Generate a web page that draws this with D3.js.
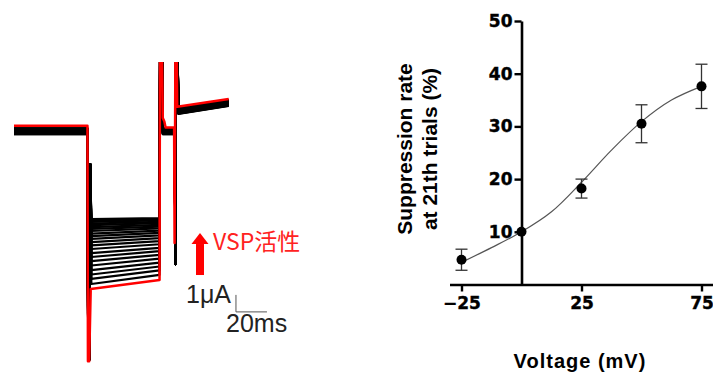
<!DOCTYPE html>
<html>
<head>
<meta charset="utf-8">
<script src="https://cdn.jsdelivr.net/npm/d3@7"></script>
<style>
  html, body { margin: 0; padding: 0; background: #fff; }
  svg { display: block; }
</style>
</head>
<body>
<svg id="chart" width="713" height="374"></svg>
<script>
// ---- left panel: current traces (time in ms, current in uA) ----
const familyStart = [-5.24, -5.32, -5.41, -5.5, -5.59, -5.71, -5.82, -5.94, -6.09, -6.24, -6.41,
  -6.59, -6.79, -7.0, -7.24, -7.47, -7.71, -7.97, -8.24, -8.5, -8.76, -9.06];
const familyEnd = [-5.18, -5.24, -5.32, -5.4, -5.48, -5.58, -5.68, -5.79, -5.92, -6.05, -6.2,
  -6.36, -6.54, -6.72, -6.93, -7.13, -7.34, -7.57, -7.8, -8.03, -8.26, -8.52];
const holdLevels = [0.1, -0.1, 0.05, -0.2, 0.0, -0.15, 0.08, -0.25, -0.05, 0.1, -0.2,
  0.02, -0.12, -0.22, 0.06, -0.08, -0.18, 0.0, -0.1, 0.04, -0.24, -0.14];

const blackTimes = [0, 47.4, 47.9, 48.6, 49.1, 49.9, 93.9, 94.3, 95.4, 96.0, 103.6, 104.2, 104.6, 105.4, 106.0, 138.5];
// protocol levels shared by black traces ("h", "s", "e", "t0", "t1" = per-trace value)
const blackShape = ["h", "h", -13.5, -13.5, -2.0, "s", "e", 6, 6, "h", "h", -7.9, 6, 6, "t0", "t1"];
const tailStart = 1.2, tailEnd = 1.67;

const redTimes = [0, 47.4, 47.7, 48.5, 49.5, 93.9, 94.2, 95.3, 96.0, 97.0, 97.8, 103.3, 103.6, 104.2, 104.8, 105.3, 138.5];
const redLevels = [0.25, 0.25, -13.6, -13.6, -9.35, -8.82, 6, 6, 0.7, 0.5, 0.15, 0.15, -6.65, 6, 6, 1.37, 1.82];

// ---- right panel: suppression rate vs voltage ----
const voltages = [-25, 0, 25, 50, 75];
const suppression = [4.7, 10.0, 18.2, 30.5, 37.6];
const suppressionErr = [2.0, 0, 1.8, 3.6, 4.2];
const fitVoltages = [-25, -12.5, 0, 12.5, 25, 37.5, 50, 62.5, 75];
const fitValues = [4.2, 7.0, 10.0, 13.8, 19.4, 25.5, 30.9, 35.0, 37.6];
const xTicks = [-25, 25, 75];
const yTicks = [10, 20, 30, 40, 50];

const svg = d3.select("#chart");

// ================= left panel =================
const tx = d3.scaleLinear().domain([0, 140]).range([14, 14 + 140 * 1.55]);
const iy = d3.scaleLinear().domain([-14, 4]).range([368, 62]);

svg.append("clipPath").attr("id", "traceClip")
  .append("rect").attr("x", 0).attr("y", iy(4)).attr("width", 260).attr("height", 374);

const traceLine = d3.line().x(d => tx(d[0])).y(d => iy(d[1]));
const traces = svg.append("g").attr("clip-path", "url(#traceClip)");

familyStart.forEach((s, i) => {
  const h = holdLevels[i];
  const vals = blackShape.map(v => {
    if (v === "h") return h;
    if (v === "s") return s;
    if (v === "e") return familyEnd[i];
    if (v === "t0") return tailStart + h;
    if (v === "t1") return tailEnd + h;
    return v;
  });
  traces.append("path")
    .datum(blackTimes.map((t, k) => [t, vals[k]]))
    .attr("d", traceLine)
    .attr("fill", "none")
    .attr("stroke", "#000")
    .attr("stroke-width", 2.2)
    .attr("stroke-linejoin", "round");
});

traces.append("path")
  .datum(redTimes.map((t, k) => [t, redLevels[k]]))
  .attr("d", traceLine)
  .attr("fill", "none")
  .attr("stroke", "#f00")
  .attr("stroke-width", 2.5)
  .attr("stroke-linejoin", "round");

// VSP activity arrow + label
const arrowT = 120, arrowTop = -6.06, arrowBase = -8.53;
const ax = tx(arrowT);
svg.append("rect")
  .attr("x", ax - 4).attr("y", iy(arrowTop) + 11)
  .attr("width", 8).attr("height", iy(arrowBase) - iy(arrowTop) - 11)
  .attr("fill", "#f00");
svg.append("path")
  .attr("d", `M${ax - 8.5},${iy(arrowTop) + 11}L${ax},${iy(arrowTop)}L${ax + 8.5},${iy(arrowTop) + 11}Z`)
  .attr("fill", "#f00");
svg.append("text")
  .attr("x", ax + 13).attr("y", iy(arrowTop) + 17)
  .attr("fill", "#f22")
  .attr("font-family", "'Noto Sans CJK JP', 'Noto Sans', sans-serif")
  .attr("font-size", 23)
  .text("VSP活性");

// scale bar: 1 uA, 20 ms
const sbT = 143.2, sbI = -10.7;
svg.append("path")
  .attr("d", `M${tx(sbT)},${iy(sbI + 1)}V${iy(sbI)}H${tx(sbT + 20)}`)
  .attr("fill", "none")
  .attr("stroke", "#555")
  .attr("stroke-width", 1);
svg.append("text")
  .attr("x", 186).attr("y", iy(sbI) - 9)
  .attr("fill", "#222")
  .attr("font-family", "'Liberation Sans', Arial, sans-serif")
  .attr("font-size", 25)
  .text("1μA");
svg.append("text")
  .attr("x", 226).attr("y", iy(sbI) + 20)
  .attr("fill", "#222")
  .attr("font-family", "'Liberation Sans', Arial, sans-serif")
  .attr("font-size", 25)
  .text("20ms");

// ================= right panel =================
const x = d3.scaleLinear().domain([-30, 80]).range([449.5, 713.5]);
const y = d3.scaleLinear().domain([0, 50]).range([284.5, 21]);

const axisFont = "'DejaVu Sans', sans-serif";

const gx = svg.append("g")
  .attr("transform", `translate(0,${y(0)})`)
  .call(d3.axisBottom(x).tickValues(xTicks).tickSize(7).tickSizeOuter(0).tickPadding(5));
const gy = svg.append("g")
  .attr("transform", `translate(${x(0)},0)`)
  .call(d3.axisLeft(y).tickValues(yTicks).tickSize(7).tickSizeOuter(0).tickPadding(2));

[gx, gy].forEach(g => {
  g.select(".domain").attr("stroke", "#000").attr("stroke-width", 2.6);
  g.selectAll(".tick line").attr("stroke", "#000").attr("stroke-width", 2.4);
  g.selectAll(".tick text")
    .attr("fill", "#000")
    .attr("stroke", "#000")
    .attr("stroke-width", 0.4)
    .attr("font-family", axisFont)
    .attr("font-weight", "bold")
    .attr("font-size", 17);
});

// fitted curve
svg.append("path")
  .datum(fitVoltages.map((v, i) => [v, fitValues[i]]))
  .attr("d", d3.line().x(d => x(d[0])).y(d => y(d[1])).curve(d3.curveCatmullRom.alpha(0.5)))
  .attr("fill", "none")
  .attr("stroke", "#555")
  .attr("stroke-width", 1.2);

// error bars
const eb = svg.append("g").attr("stroke", "#333").attr("stroke-width", 1.3);
voltages.forEach((v, i) => {
  const e = suppressionErr[i];
  if (!e) return;
  const cx = x(v);
  eb.append("line").attr("x1", cx).attr("x2", cx)
    .attr("y1", y(suppression[i] + e)).attr("y2", y(suppression[i] - e));
  eb.append("line").attr("x1", cx - 6).attr("x2", cx + 6)
    .attr("y1", y(suppression[i] + e)).attr("y2", y(suppression[i] + e));
  eb.append("line").attr("x1", cx - 6).attr("x2", cx + 6)
    .attr("y1", y(suppression[i] - e)).attr("y2", y(suppression[i] - e));
});

svg.append("g").selectAll("circle")
  .data(voltages)
  .join("circle")
  .attr("cx", d => x(d))
  .attr("cy", (d, i) => y(suppression[i]))
  .attr("r", 5)
  .attr("fill", "#000");

// axis titles
const yLabel = svg.append("text")
  .attr("transform", "translate(0,149) rotate(-90)")
  .attr("text-anchor", "middle")
  .attr("font-family", "'Liberation Sans', Arial, sans-serif")
  .attr("font-weight", "bold")
  .attr("font-size", 21)
  .attr("fill", "#000");
yLabel.append("tspan").attr("x", 0).attr("y", 412).text("Suppression rate");
yLabel.append("tspan").attr("x", 0).attr("y", 437).text("at 21th trials (%)");

svg.append("text")
  .attr("x", 580).attr("y", 368)
  .attr("text-anchor", "middle")
  .attr("font-family", "'Liberation Sans', Arial, sans-serif")
  .attr("font-weight", "bold")
  .attr("font-size", 20)
  .attr("letter-spacing", 1)
  .attr("fill", "#000")
  .text("Voltage (mV)");
</script>
</body>
</html>
